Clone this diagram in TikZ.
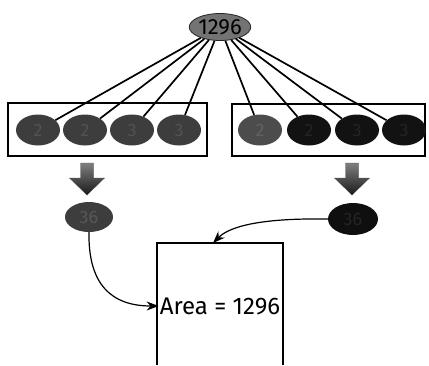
\documentclass[tikz,border=0pt]{standalone}
\usepackage{fontspec}
\setmainfont{Fira Sans}
\usetikzlibrary{shapes.geometric,arrows.meta}
\tikzset{
  factor/.style={ellipse, fill=#1, minimum width=44pt, minimum height=31pt,
    inner sep=0pt, font=\fontsize{18}{18}\selectfont},
  spoke/.style={line width=1.7pt},
  curvearrow/.style={line width=1.2pt, -{Stealth[length=12pt,width=9pt]}},
}
\begin{document}
\begin{tikzpicture}[x=1pt,y=-1pt]
        \useasboundingbox (0,0) rectangle (429,365);
        % the whole
        \node[factor=black!55, draw=black!85, line width=0.8pt, minimum width=58pt, minimum height=27pt,
          font=\fontsize{22}{22}\selectfont] (total) at (220,27) {1296};
        % the two groups of factors
        \draw[line width=2pt] (8,103) rectangle (207,156);
        \draw[line width=2pt] (232,104) rectangle (425,156);
        \foreach \x/\n [count=\i] in {38/2, 85/2, 132/3, 179/3}{
            \node[factor=black!76, text=black!68] (l\i) at (\x,130) {\n};
            }
        \foreach \x/\n/\c/\t [count=\i] in {260/2/black!70/black!62, 309/2/black!93/black!86,
            357/3/black!93/black!86, 404/3/black!93/black!86}{
            \node[factor=\c, text=\t] (r\i) at (\x,130) {\n};
            }
        \foreach \i in {1,...,4}{
            \draw[spoke] (total) -- (l\i);
            \draw[spoke] (total) -- (r\i);
            }
        % block arrows
        \foreach \x in {87,352}{
            \shade[top color=black!50, bottom color=black!90, draw=black!70]
              ({\x-6.5},163) -- ({\x+6.5},163) -- ({\x+6.5},178) -- ({\x+17.5},178)
              -- (\x,195) -- ({\x-17.5},178) -- ({\x-6.5},178) -- cycle;
            }
        % the two products
        \node[factor=black!76, text=black!66, minimum width=48pt, minimum height=30pt] (lres) at (89,217) {36};
        \node[factor=black!94, text=black!86, minimum width=50pt, minimum height=32pt] (rres) at (353,219) {36};
        % the square
        \draw[line width=1.6pt] (157,365) -- (157,243) -- (283,243) -- (283,365);
        \coordinate (boxtop) at (213,243);
        \node[inner sep=1pt, font=\fontsize{24}{24}\selectfont] (area) at (220,306) {Area = 1296};
        \draw[curvearrow] (lres.south) .. controls (88,285) and (112,306) .. (area.west);
        \draw[curvearrow] (rres.west) .. controls (262,218) and (230,226) .. (boxtop);
    \end{tikzpicture}
\end{document}
